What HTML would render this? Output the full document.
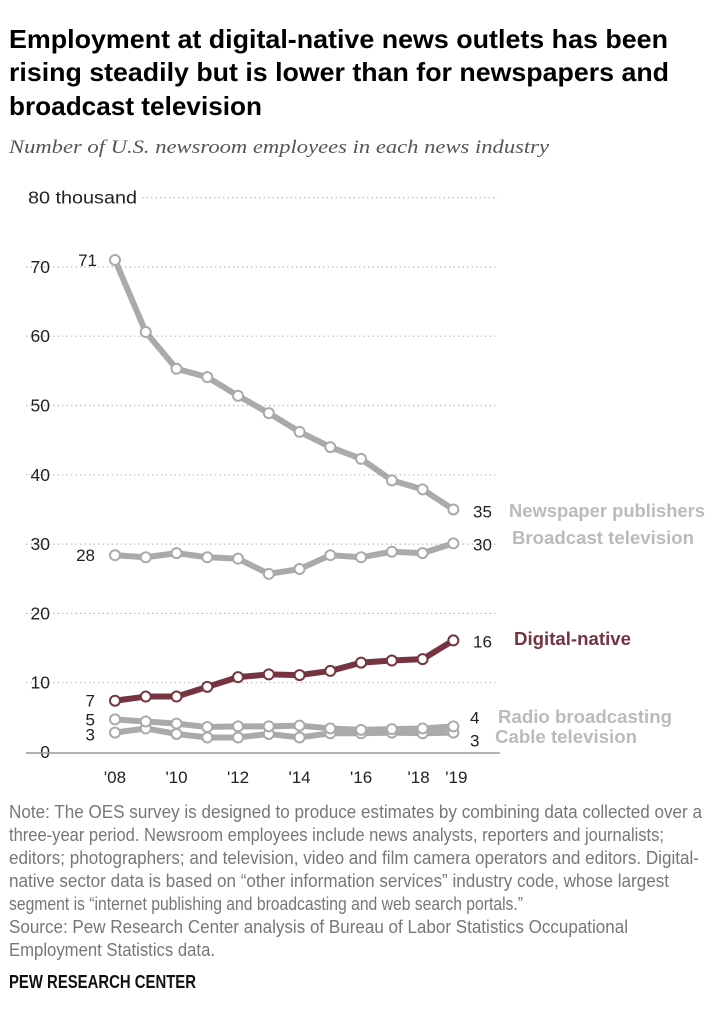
<!DOCTYPE html>
<html><head><meta charset="utf-8"><style>
body{margin:0;background:#fff;width:714px;height:1023px;overflow:hidden;font-family:"Liberation Sans",sans-serif;color:#000}
.ln{position:absolute;left:9px;white-space:nowrap;transform-origin:0 50%}
.t{font-size:26px;font-weight:bold;color:#000;line-height:33px}
.n{font-size:18px;color:#777;line-height:23px}
#sub{font-family:"Liberation Serif",serif;font-style:italic;font-size:19px;color:#555;line-height:22px}
#pew{font-size:18px;font-weight:bold;color:#111;line-height:22px}
svg{position:absolute;left:0;top:0}
</style></head><body>
<div>
<div class="ln t" style="top:23px" data-w="659">Employment at digital-native news outlets has been</div>
<div class="ln t" style="top:56px" data-w="660">rising steadily but is lower than for newspapers and</div>
<div class="ln t" style="top:90px" data-w="253">broadcast television</div>
</div>
<div id="sub" class="ln" style="top:137px" data-w="540">Number of U.S. newsroom employees in each news industry</div>
<svg id="chart" width="714" height="1023"></svg>
<div>
<div class="ln n" style="top:801px" data-w="693">Note: The OES survey is designed to produce estimates by combining data collected over a</div>
<div class="ln n" style="top:824px" data-w="655">three-year period. Newsroom employees include news analysts, reporters and journalists;</div>
<div class="ln n" style="top:847px" data-w="690">editors; photographers; and television, video and film camera operators and editors. Digital-</div>
<div class="ln n" style="top:870px" data-w="660">native sector data is based on “other information services” industry code, whose largest</div>
<div class="ln n" style="top:893px" data-w="514">segment is “internet publishing and broadcasting and web search portals.”</div>
<div class="ln n" style="top:916px" data-w="619">Source: Pew Research Center analysis of Bureau of Labor Statistics Occupational</div>
<div class="ln n" style="top:939px" data-w="206">Employment Statistics data.</div>
</div>
<div id="pew" class="ln" style="top:971px" data-w="187">PEW RESEARCH CENTER</div>
<script>
const years=[2008,2009,2010,2011,2012,2013,2014,2015,2016,2017,2018,2019];
const yTicks=[0,10,20,30,40,50,60,70,80];
const xTickYears=[2008,2010,2012,2014,2016,2018,2019];
const xTickLabels=["'08","'10","'12","'14","'16","'18","'19"];
const newspaper=[71,60.6,55.3,54.1,51.4,48.9,46.2,44.0,42.3,39.2,37.9,35.0];
const broadcast=[28.4,28.1,28.7,28.1,27.9,25.7,26.4,28.4,28.1,28.9,28.7,30.1];
const digital=[7.4,8.0,8.0,9.4,10.8,11.2,11.1,11.7,12.9,13.2,13.4,16.1];
const radio=[4.7,4.4,4.1,3.6,3.7,3.7,3.8,3.4,3.2,3.3,3.4,3.7];
const cable=[2.8,3.4,2.6,2.1,2.1,2.6,2.1,2.7,2.7,2.8,2.7,2.8];
document.querySelectorAll('.ln').forEach(e=>{const w=e.getBoundingClientRect().width;const t=+e.getAttribute('data-w');e.style.transform='scaleX('+(t/w)+')';});
const ns="http://www.w3.org/2000/svg",svg=document.getElementById('chart');
const x=yr=>115+(yr-2008)*30.76;
const y=v=>752-v*6.93;
function mk(t,a,p){const e=document.createElementNS(ns,t);for(const k in a)e.setAttribute(k,a[k]);(p||svg).appendChild(e);return e;}
function txt(s,a){const e=mk('text',a);e.textContent=s;return e;}
yTicks.forEach(v=>{
 if(v>0){const g=mk('line',{x1:v==80?142:26,x2:498,y1:y(v),y2:y(v),stroke:'#bbb','stroke-width':1.2,'stroke-dasharray':'1.5 3'});
 }
 const a={x:v==80?28:50,y:y(v)+6,'font-size':17.5,'text-anchor':v==80?'start':'end',fill:'#222'};
 if(v==80){a.textLength=109;a.lengthAdjust='spacingAndGlyphs';}
 const t=txt(v==80?'80 thousand':String(v),a);
 
});
const ax=mk('line',{x1:26,x2:500,y1:753,y2:753,stroke:'#999','stroke-width':1.5});

xTickYears.forEach((yr,i)=>{const t=txt(xTickLabels[i],{x:x(yr)+(yr==2018?-4:yr==2019?3:0),y:783,'font-size':17,'text-anchor':'middle',fill:'#222'});
 });
function series(d,col,name){
 const g=mk('g',{});
 mk('polyline',{points:d.map((v,i)=>x(years[i])+','+y(v)).join(' '),fill:'none',stroke:col,'stroke-width':6,'stroke-linejoin':'round'},g);
 d.forEach((v,i)=>{const c=mk('circle',{cx:x(years[i]),cy:y(v),r:5,fill:'#fff',stroke:col,'stroke-width':2},g);
  });
}
const gray='#aaaaaa';
series(cable,gray,'cable');series(radio,gray,'radio');series(broadcast,gray,'broadcast');series(newspaper,gray,'newspaper');series(digital,'#763440','digital');
function lab(s,xx,yy,anchor,name){const t=txt(s,{x:xx,y:yy,'font-size':17,'text-anchor':anchor,fill:'#222'});}
lab(Math.round(newspaper[0]),97,y(newspaper[0])+6,'end','label-newspaper-start');
lab(Math.round(broadcast[0]),95,y(broadcast[0])+6,'end','label-broadcast-start');
lab(Math.round(digital[0]),95,y(digital[0])+6,'end','label-digital-start');
lab(Math.round(radio[0]),95,y(radio[0])+6,'end','label-radio-start');
lab(Math.round(cable[0]),95,y(cable[0])+8,'end','label-cable-start');
lab(Math.round(newspaper[11]),473,y(newspaper[11])+8,'start','label-newspaper-end');
lab(Math.round(broadcast[11]),473,y(broadcast[11])+7,'start','label-broadcast-end');
lab(Math.round(digital[11]),473,y(digital[11])+7,'start','label-digital-end');
lab(Math.round(radio[11]),470,y(radio[11])-3,'start','label-radio-end');
lab(Math.round(cable[11]),470,y(cable[11])+14,'start','label-cable-end');
function leg(s,xx,yy,w,col,name){const t=txt(s,{x:xx,y:yy,'font-size':18,'font-weight':'bold',fill:col,textLength:w,lengthAdjust:'spacingAndGlyphs'});}
leg('Newspaper publishers',509,517,196,'#bbbbbb','legend-newspaper');
leg('Broadcast television',512,544,182,'#bbbbbb','legend-broadcast');
leg('Digital-native',514,645,117,'#763440','legend-digital');
leg('Radio broadcasting',498,723,174,'#bbbbbb','legend-radio');
leg('Cable television',495,743,142,'#bbbbbb','legend-cable');
document.querySelectorAll('text').forEach(t=>t.setAttribute('font-family','Liberation Sans, sans-serif'));
</script>
</body></html>
